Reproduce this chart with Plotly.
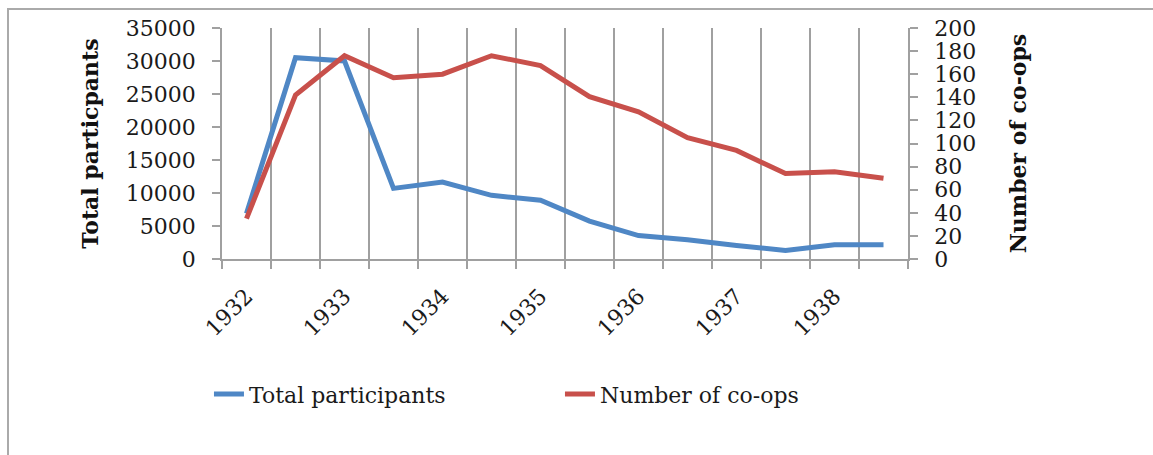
import plotly.graph_objects as go

# ---- data ----
years = ["1932", "1933", "1934", "1935", "1936", "1937", "1938"]
periods = ["1932 H1", "1932 H2", "1933 H1", "1933 H2", "1934 H1", "1934 H2",
           "1935 H1", "1935 H2", "1936 H1", "1936 H2", "1937 H1", "1937 H2",
           "1938 H1", "1938 H2"]
total_participants = [6900, 30500, 30000, 10700, 11650, 9650, 8900,
                      5750, 3550, 2900, 2050, 1300, 2150, 2150]
num_coops = [35, 142, 176, 157, 160, 176, 167.5,
             140.5, 127.5, 105, 94, 74, 75.5, 70]

idx = list(range(len(periods)))
label_pos = [i for i, p in enumerate(periods) if p.endswith("H1")]
boundaries = [i - 0.5 for i in range(len(periods) + 1)]

FONT = "DejaVu Serif"
GRID = "#a0a0a0"
TXT = "#1a1a1a"
FS = 22

fig = go.Figure()
fig.add_trace(go.Scatter(x=idx, y=total_participants, name="Total participants",
                         mode="lines", line=dict(color="#4F87C5", width=5),
                         xaxis="x", yaxis="y"))
fig.add_trace(go.Scatter(x=idx, y=num_coops, name="Number of co-ops",
                         mode="lines", line=dict(color="#C8504B", width=5),
                         xaxis="x2", yaxis="y2"))

xr = [-0.5, len(periods) - 0.5]

fig.update_layout(
    width=1153, height=455,
    margin=dict(l=222, r=245, t=28, b=196, autoexpand=False),
    paper_bgcolor="white", plot_bgcolor="white",
    font=dict(family=FONT, size=FS, color=TXT),
    showlegend=True,
    legend=dict(orientation="h", x=-0.019, xanchor="left", y=-0.585, yanchor="middle",
                font=dict(family=FONT, size=FS, color=TXT),
                entrywidth=306, entrywidthmode="pixels",
                bgcolor="rgba(0,0,0,0)"),
    xaxis=dict(range=xr, tickmode="array", tickvals=boundaries,
               ticktext=[""] * len(boundaries),
               showgrid=True, gridcolor=GRID, gridwidth=1.5,
               showline=True, linecolor=GRID, linewidth=1.5,
               ticks="outside", ticklen=8, tickcolor=GRID, tickwidth=1.5,
               zeroline=False, fixedrange=True),
    xaxis2=dict(overlaying="x", side="bottom", range=xr, tickmode="array",
                tickvals=label_pos, ticktext=years, tickangle=-45,
                showgrid=False, showline=False, ticks="", zeroline=False,
                ticklabelstandoff=19,
                tickfont=dict(family=FONT, size=FS, color=TXT)),
    yaxis=dict(range=[0, 35000], dtick=5000, tickmode="linear", tickformat="d",
               showgrid=False, zeroline=False,
               showline=True, linecolor=GRID, linewidth=1.5,
               ticks="outside", ticklen=8, tickcolor=GRID, tickwidth=1.5,
               ticklabelstandoff=12,
               tickfont=dict(family=FONT, size=FS, color=TXT),
               title=dict(text="<b>Total particpants</b>", standoff=21,
                          font=dict(family=FONT, size=22, color="#111"))),
    yaxis2=dict(overlaying="y", side="right", range=[0, 200], dtick=20,
                tickmode="linear", tickformat="d", showgrid=False, zeroline=False,
                showline=True, linecolor=GRID, linewidth=1.5,
                ticks="outside", ticklen=8, tickcolor=GRID, tickwidth=1.5,
                ticklabelstandoff=12,
                tickfont=dict(family=FONT, size=FS, color=TXT),
                title=dict(text="<b>Number of co-ops</b>", standoff=35,
                           font=dict(family=FONT, size=22, color="#111"))),
    shapes=[dict(type="rect", xref="paper", yref="paper",
                 x0=(8 - 222) / 686, x1=(1170 - 222) / 686,
                 y0=(259 - 470) / 231, y1=(259 - 9) / 231,
                 line=dict(color="#aaaaaa", width=2), layer="below")],
)

fig.write_html("out.html", config={"displayModeBar": False},
               post_script="document.body.style.margin='0';document.body.style.overflow='hidden';")
